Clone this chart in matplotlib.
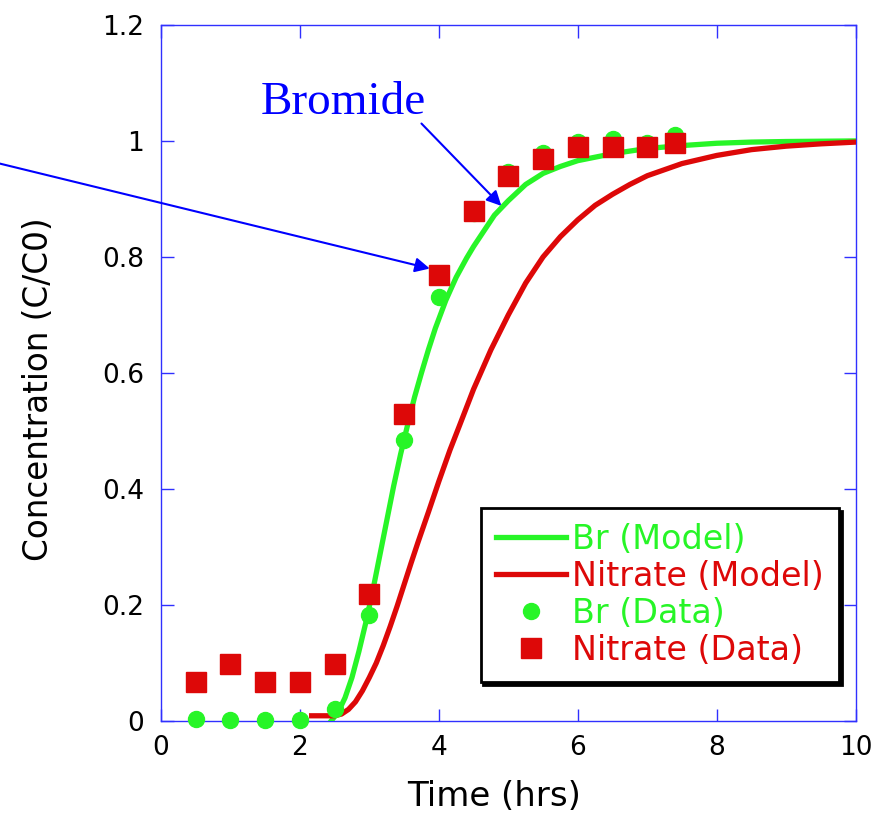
import matplotlib
matplotlib.use("Agg")
import matplotlib.pyplot as plt

# model curves
br_model_t = [2.45, 2.55, 2.65, 2.75, 2.85, 2.95, 3.05, 3.15, 3.25, 3.35, 3.45, 3.55, 3.65,
              3.75, 3.85, 3.95, 4.10, 4.25, 4.40, 4.50, 4.65, 4.80, 5.00, 5.25, 5.50, 5.75,
              6.00, 6.50, 7.00, 7.50, 8.00, 8.50, 9.00, 10.0]
br_model_c = [0.0, 0.015, 0.04, 0.075, 0.12, 0.17, 0.225, 0.285, 0.345, 0.405, 0.46, 0.51, 0.558,
              0.60, 0.64, 0.677, 0.725, 0.765, 0.798, 0.818, 0.845, 0.872, 0.897, 0.925, 0.944, 0.956,
              0.966, 0.978, 0.987, 0.992, 0.996, 0.998, 0.999, 1.0]

no3_model_t = [2.17, 2.50, 2.60, 2.70, 2.80, 2.90, 3.00, 3.10, 3.20, 3.30, 3.40, 3.50, 3.60,
               3.70, 3.85, 4.00, 4.16, 4.30, 4.50, 4.75, 5.00, 5.25, 5.50, 5.75, 6.00, 6.25,
               6.50, 6.75, 7.00, 7.50, 8.00, 8.50, 9.00, 9.50, 10.0]
no3_model_c = [0.009, 0.009, 0.012, 0.02, 0.033, 0.052, 0.075, 0.10, 0.13, 0.163, 0.198, 0.235, 0.272,
               0.308, 0.36, 0.413, 0.467, 0.51, 0.572, 0.64, 0.70, 0.755, 0.80, 0.835, 0.864, 0.889,
               0.908, 0.925, 0.94, 0.961, 0.975, 0.985, 0.991, 0.995, 0.998]

# measured points
br_t = [0.5, 1.0, 1.5, 2.0, 2.5, 3.0, 3.5, 4.0, 4.5, 5.0, 5.5, 6.0, 6.5, 7.0, 7.4]
br_c = [0.004, 0.002, 0.002, 0.002, 0.02, 0.183, 0.484, 0.731, 0.875, 0.947, 0.979, 0.998, 1.003, 0.997, 1.01]

no3_t = [0.5, 1.0, 1.5, 2.0, 2.5, 3.0, 3.5, 4.0, 4.5, 5.0, 5.5, 6.0, 6.5, 7.0, 7.4]
no3_c = [0.068, 0.098, 0.068, 0.068, 0.098, 0.219, 0.529, 0.769, 0.879, 0.94, 0.969, 0.99, 0.99, 0.99, 0.997]

green = '#27f527'
red = '#dd0808'

fig = plt.figure(figsize=(8.84, 8.17), dpi=100)
ax = fig.add_axes([0.182, 0.1175, 0.786, 0.852])

ax.plot(br_model_t, br_model_c, color=green, lw=3.8, label='Br (Model)', zorder=3)
ax.plot(no3_model_t, no3_model_c, color=red, lw=3.8, label='Nitrate (Model)', zorder=3)
ax.plot(br_t, br_c, 'o', color=green, ms=11.5, label='Br (Data)', clip_on=False, zorder=4)
ax.plot(no3_t, no3_c, 's', color=red, ms=14.5, label='Nitrate (Data)', clip_on=False, zorder=5)

ax.set_xlim(0, 10)
ax.set_ylim(0, 1.2)
ax.set_xticks([0, 2, 4, 6, 8, 10])
ax.set_yticks([0, 0.2, 0.4, 0.6, 0.8, 1.0, 1.2])
ax.set_yticklabels(['0', '0.2', '0.4', '0.6', '0.8', '1', '1.2'])

for s in ax.spines.values():
    s.set_color('#3030ff')
    s.set_linewidth(1.0)
ax.tick_params(direction='in', length=9, width=1, colors='#3030ff', labelcolor='black',
               labelsize=19, top=True, right=True)
ax.tick_params(axis='x', pad=10)
ax.tick_params(axis='y', pad=12)

ax.set_xlabel('Time (hrs)', fontsize=24.5, labelpad=14, x=0.48)
ax.set_ylabel('Concentration (C/C0)', fontsize=23.5, labelpad=34, y=0.476)

leg = ax.legend(loc='lower right', bbox_to_anchor=(0.976, 0.056), fontsize=24,
                labelcolor='linecolor', fancybox=False, framealpha=1,
                edgecolor='black', shadow={'color': 'black', 'alpha': 1},
                handlelength=2.1, handletextpad=0.2, labelspacing=0.12,
                borderpad=0.45, borderaxespad=0)
leg.get_frame().set_linewidth(2)

# Bromide label and arrows
ax.text(2.62, 1.065, 'Bromide', color='blue', fontsize=34, family='Liberation Serif',
        ha='center', va='center')
ax.annotate('', xy=(4.9, 0.888), xytext=(3.75, 1.03),
            arrowprops=dict(arrowstyle='-|>', color='blue', lw=1.5, mutation_scale=22,
                            shrinkA=0, shrinkB=0))
ax.annotate('', xy=(3.87, 0.78), xytext=(-2.32, 0.961), annotation_clip=False,
            arrowprops=dict(arrowstyle='-|>', color='blue', lw=1.5, mutation_scale=22,
                            shrinkA=0, shrinkB=0))

fig.savefig('out.png', dpi=100)
